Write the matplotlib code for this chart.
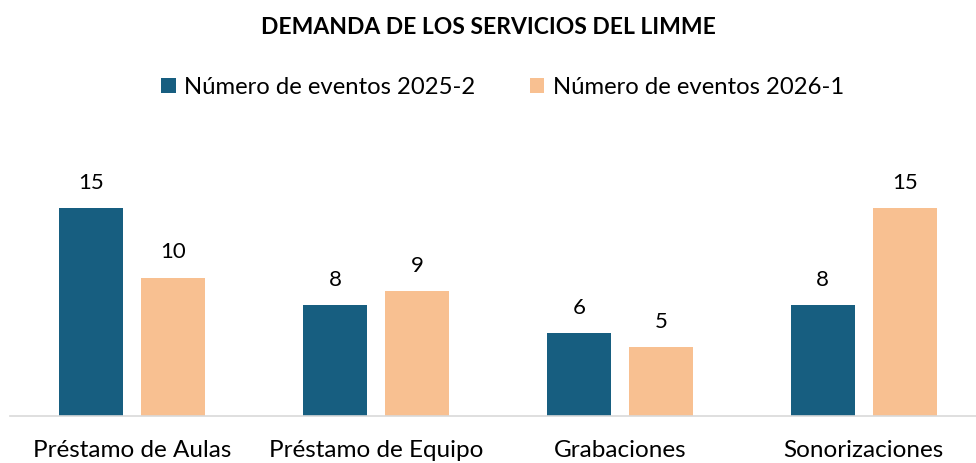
import numpy as np
import matplotlib.pyplot as plt

categorias = ['Préstamo de Aulas', 'Préstamo de Equipo', 'Grabaciones', 'Sonorizaciones']
eventos_2025_2 = [15, 8, 6, 8]
eventos_2026_1 = [10, 9, 5, 15]
series = ['Número de eventos 2025-2', 'Número de eventos 2026-1']

plt.rcParams['font.family'] = ['Lato', 'DejaVu Sans']

fig = plt.figure(figsize=(9.76, 4.63), dpi=100)
ax = fig.add_axes([0.0103, 0.1015, 0.9897, 0.598])

x = np.arange(len(categorias))
w = 0.262
off = 0.168
b1 = ax.bar(x - off, eventos_2025_2, w, color='#175E80', label=series[0])
b2 = ax.bar(x + off, eventos_2026_1, w, color='#F8C091', label=series[1])

for bars in (b1, b2):
    for b in bars:
        ax.text(b.get_x() + b.get_width() / 2, b.get_height() + 1.1, f'{int(b.get_height())}',
                ha='center', va='bottom', fontsize=16)

ax.set_xlim(-0.5, 3.46)
ax.set_ylim(0, 20)
ax.set_xticks(x)
ax.set_xticklabels(categorias, fontsize=17.5)
ax.tick_params(axis='x', length=0, pad=17)
ax.set_yticks([])
for s in ['top', 'right', 'left']:
    ax.spines[s].set_visible(False)
ax.spines['bottom'].set_color('#D9D9D9')
ax.spines['bottom'].set_linewidth(1.2)

fig.text(0.5, 0.94, 'DEMANDA DE LOS SERVICIOS DEL LIMME', ha='center', va='center',
         fontsize=16.5, fontweight='bold')
fig.legend(handles=[b1, b2], loc='center', bbox_to_anchor=(0.515, 0.812), ncol=2,
           frameon=False, fontsize=17.2, handlelength=0.6, handleheight=0.6,
           handletextpad=0.35, columnspacing=2.3)

fig.savefig('out.png', dpi=100)
